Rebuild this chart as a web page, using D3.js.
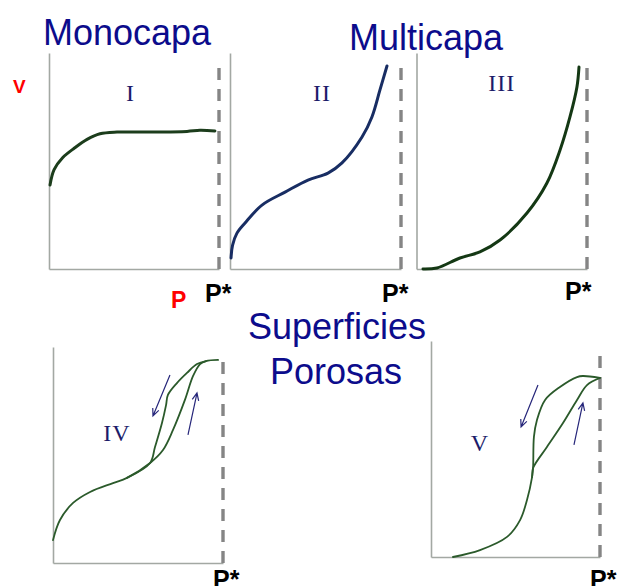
<!DOCTYPE html>
<html>
<head>
<meta charset="utf-8">
<script src="https://cdn.jsdelivr.net/npm/d3@7"></script>
<style>
  body { margin: 0; background: #fff; }
  svg { display: block; }
</style>
</head>
<body>
<div id="chart"></div>
<script>
// Isotermas de adsorción (tipos I a V), valores relativos leídos del dibujo
// x: P/P* (0..1), y: V (0..1)

const isoI_p = [0.006, 0.030, 0.080, 0.150, 0.224, 0.300, 0.400, 0.600, 0.812, 0.888, 0.976];
const isoI_v = [0.389, 0.460, 0.515, 0.560, 0.600, 0.626, 0.634, 0.634, 0.637, 0.642, 0.639];

const isoII_p = [0.006, 0.015, 0.040, 0.088, 0.187, 0.322, 0.456, 0.573, 0.655, 0.772, 0.830, 0.877, 0.918];
const isoII_v = [0.051, 0.110, 0.165, 0.213, 0.296, 0.356, 0.412, 0.444, 0.491, 0.611, 0.704, 0.829, 0.940];

const isoIII_p = [0.038, 0.120, 0.255, 0.372, 0.490, 0.648, 0.765, 0.842, 0.900, 0.941, 0.953];
const isoIII_v = [0.000, 0.005, 0.051, 0.079, 0.134, 0.259, 0.398, 0.551, 0.704, 0.843, 0.935];

// Tipo IV: tramo común + rama de adsorción + rama de desorción
const isoIV_common_p = [0.0, 0.041, 0.118, 0.218, 0.353, 0.435, 0.571];
const isoIV_common_v = [0.106, 0.199, 0.278, 0.329, 0.370, 0.394, 0.463];
const isoIV_ads_p = [0.647, 0.706, 0.776, 0.824, 0.865, 0.900, 0.971];
const isoIV_ads_v = [0.523, 0.616, 0.755, 0.866, 0.921, 0.935, 0.940];
const isoIV_des_p = [0.600, 0.641, 0.665, 0.676, 0.729, 0.788, 0.847, 0.900];
const isoIV_des_v = [0.537, 0.648, 0.731, 0.778, 0.833, 0.880, 0.921, 0.935];

// Tipo V
const isoV_common_p = [0.130, 0.290, 0.450, 0.527, 0.568, 0.598, 0.604];
const isoV_common_v = [0.000, 0.032, 0.093, 0.171, 0.264, 0.370, 0.412];
const isoV_ads_p = [0.686, 0.781, 0.864, 0.923, 1.0];
const isoV_ads_v = [0.509, 0.620, 0.727, 0.796, 0.829];
const isoV_des_p = [0.609, 0.627, 0.675, 0.763, 0.864, 0.899, 1.0];
const isoV_des_v = [0.556, 0.634, 0.727, 0.787, 0.833, 0.838, 0.829];

// Flechas de histéresis [p inicio, v inicio, p fin, v fin]
const arrowsIV = [[0.688, 0.870, 0.588, 0.681], [0.794, 0.593, 0.847, 0.787]];
const arrowsV = [[0.633, 0.796, 0.533, 0.602], [0.846, 0.519, 0.899, 0.713]];

const romanLabels = ["I", "II", "III", "IV", "V"];
const titles = ["Monocapa", "Multicapa", "Superficies", "Porosas"];

const zip = (p, v) => p.map((d, i) => ({ p: d, v: v[i] }));

// Configuración de paneles (posición y estilo)
const panels = [
    { x0: 49, x1: 219, top: 53, bottom: 269, dashTop: 0.963, label: romanLabels[0], lp: [0.48, 0.815],
      color: "#1c3d1c", width: 3, curves: [zip(isoI_p, isoI_v)], arrows: [], pstar: [205, 302] },
    { x0: 230, x1: 401, top: 53, bottom: 269, dashTop: 0.967, label: romanLabels[1], lp: [0.538, 0.815],
      color: "#182d63", width: 3, curves: [zip(isoII_p, isoII_v)], arrows: [], pstar: [382, 302] },
    { x0: 416.5, x1: 587, top: 53, bottom: 269, dashTop: 0.958, label: romanLabels[2], lp: [0.50, 0.861],
      color: "#143814", width: 3, curves: [zip(isoIII_p, isoIII_v)], arrows: [], pstar: [565, 300] },
    { x0: 53, x1: 223, top: 347, bottom: 563, dashTop: 0.963, label: romanLabels[3], lp: [0.376, 0.602],
      color: "#2b5a2b", width: 1.8,
      curves: [zip(isoIV_common_p.concat(isoIV_ads_p), isoIV_common_v.concat(isoIV_ads_v)),
               zip(isoIV_common_p.slice(-2).concat(isoIV_des_p), isoIV_common_v.slice(-2).concat(isoIV_des_v))],
      arrows: arrowsIV, pstar: [213, 588] },
    { x0: 431, x1: 600, top: 341, bottom: 557, dashTop: 0.958, label: romanLabels[4], lp: [0.29, 0.528],
      color: "#2b5a2b", width: 1.8,
      curves: [zip(isoV_common_p.concat(isoV_ads_p), isoV_common_v.concat(isoV_ads_v)),
               zip(isoV_common_p.slice(-2).concat(isoV_des_p), isoV_common_v.slice(-2).concat(isoV_des_v))],
      arrows: arrowsV, pstar: [590, 588] }
];

const W = 618, H = 586;
const svg = d3.select("#chart").append("svg")
    .attr("width", W)
    .attr("height", H)
    .style("background", "#fff");

const sans = "'Liberation Sans', Arial, sans-serif";
const serif = "'Liberation Serif', 'Times New Roman', serif";
const titleColor = "#0c0c8c";

panels.forEach(pn => {
    const x = d3.scaleLinear().domain([0, 1]).range([pn.x0, pn.x1]);
    const y = d3.scaleLinear().domain([0, 1]).range([pn.bottom, pn.top]);
    const g = svg.append("g");

    // Ejes sin marcas
    g.append("g")
        .attr("transform", `translate(0,${pn.bottom})`)
        .call(d3.axisBottom(x).ticks(0).tickSizeOuter(0));
    g.append("g")
        .attr("transform", `translate(${pn.x0},0)`)
        .call(d3.axisLeft(y).ticks(0).tickSizeOuter(0));
    g.selectAll(".domain").attr("stroke", "#a3a8a3").attr("stroke-width", 1.6);

    // Línea de P* (discontinua)
    g.append("line")
        .attr("x1", x(1)).attr("x2", x(1))
        .attr("y1", y(0)).attr("y2", y(pn.dashTop))
        .attr("stroke", "#858585")
        .attr("stroke-width", 3.4)
        .attr("stroke-dasharray", "12,9");

    // Curvas
    const line = d3.line()
        .x(d => x(d.p))
        .y(d => y(d.v))
        .curve(d3.curveCatmullRom.alpha(0.5));
    pn.curves.forEach(c => {
        g.append("path")
            .attr("d", line(c))
            .attr("fill", "none")
            .attr("stroke", pn.color)
            .attr("stroke-width", pn.width)
            .attr("stroke-linecap", "round")
            .attr("stroke-linejoin", "round");
    });

    // Flechas
    pn.arrows.forEach(a => {
        const xa = x(a[0]), ya = y(a[1]), xb = x(a[2]), yb = y(a[3]);
        const ang = Math.atan2(yb - ya, xb - xa);
        const L = 8, spread = 0.42;
        const head = [ang + Math.PI - spread, ang + Math.PI + spread]
            .map(t => [xb + L * Math.cos(t), yb + L * Math.sin(t)]);
        g.append("path")
            .attr("d", `M${xa},${ya}L${xb},${yb}M${head[0][0]},${head[0][1]}L${xb},${yb}L${head[1][0]},${head[1][1]}`)
            .attr("fill", "none")
            .attr("stroke", "#26267a")
            .attr("stroke-width", 1.2);
    });

    // Número romano
    g.append("text")
        .attr("x", x(pn.lp[0]))
        .attr("y", y(pn.lp[1]))
        .attr("dy", "0.35em")
        .attr("text-anchor", "middle")
        .style("font-family", serif)
        .style("font-size", "24px")
        .style("letter-spacing", "1px")
        .style("fill", "#1c1c6a")
        .text(pn.label);

    // P*
    svg.append("text")
        .attr("x", pn.pstar[0])
        .attr("y", pn.pstar[1])
        .style("font-family", sans)
        .style("font-weight", "bold")
        .style("font-size", "25px")
        .style("fill", "#000")
        .text("P*");
});

// Títulos
const titlePos = [[43, 45, "start"], [349, 50, "start"], [337, 339, "middle"], [336, 384, "middle"]];
titles.forEach((t, i) => {
    svg.append("text")
        .attr("x", titlePos[i][0])
        .attr("y", titlePos[i][1])
        .attr("text-anchor", titlePos[i][2])
        .style("font-family", sans)
        .style("font-size", "36px")
        .style("fill", titleColor)
        .text(t);
});

// Etiquetas de ejes en rojo
svg.append("text")
    .attr("x", 13).attr("y", 93)
    .style("font-family", sans).style("font-weight", "bold")
    .style("font-size", "19px").style("fill", "#ff0000")
    .text("V");
svg.append("text")
    .attr("x", 171).attr("y", 308)
    .style("font-family", sans).style("font-weight", "bold")
    .style("font-size", "23px").style("fill", "#ff0000")
    .text("P");
</script>
</body>
</html>
